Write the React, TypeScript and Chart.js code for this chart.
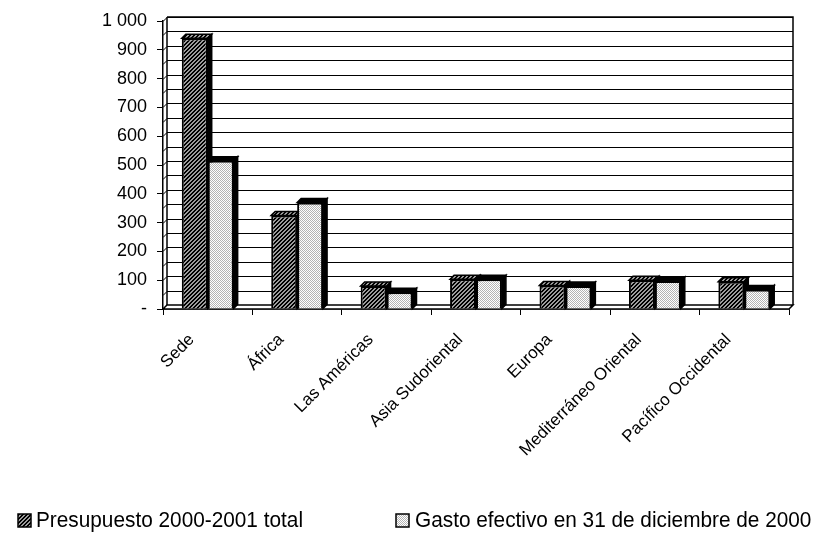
import React, { useEffect, useRef } from "react";
import { Chart, registerables } from "chart.js";

Chart.register(...registerables);

const categories = [
  "Sede",
  "África",
  "Las Américas",
  "Asia Sudoriental",
  "Europa",
  "Mediterráneo Oriental",
  "Pacífico Occidental",
];
const presupuesto = [940, 325, 80, 103, 82, 100, 95];
const gasto = [515, 370, 58, 103, 80, 97, 68];
const seriesNames = [
  "Presupuesto 2000-2001 total",
  "Gasto efectivo en 31 de diciembre de 2000",
];
const yMax = 1000;
const yStep = 50;
const yLabelStep = 100;

const FONT = "'Liberation Sans', Arial, sans-serif";
const DEPTH = 4;

function makeHatch(): CanvasPattern | string {
  const c = document.createElement("canvas");
  c.width = 4;
  c.height = 4;
  const g = c.getContext("2d");
  if (!g) return "#555";
  g.fillStyle = "#9c9c9c";
  g.fillRect(0, 0, 4, 4);
  g.fillStyle = "#000";
  for (let x = 0; x < 4; x++)
    for (let y = 0; y < 4; y++) if ((x + y) % 4 < 2) g.fillRect(x, y, 1, 1);
  return g.createPattern(c, "repeat") || "#555";
}

function makeDots(): CanvasPattern | string {
  const c = document.createElement("canvas");
  c.width = 2;
  c.height = 2;
  const g = c.getContext("2d");
  if (!g) return "#ddd";
  g.fillStyle = "#ffffff";
  g.fillRect(0, 0, 2, 2);
  g.fillStyle = "#b4b4b4";
  g.fillRect(0, 0, 1, 1);
  g.fillRect(1, 1, 1, 1);
  return g.createPattern(c, "repeat") || "#ddd";
}

function fmt(v: number): string {
  if (v === 0) return "-";
  return String(v).replace(/\B(?=(\d{3})+(?!\d))/g, " ");
}

const threeD = {
  id: "threeD",
  beforeDatasetsDraw(chart: any) {
    const { ctx, chartArea, scales } = chart;
    const d = DEPTH;
    const L = chartArea.left;
    const R = chartArea.right;
    const B = chartArea.bottom;
    const ys = scales.y;
    ctx.save();
    ctx.strokeStyle = "#000";
    ctx.lineWidth = 1;
    for (let v = 0; v <= yMax; v += yStep) {
      const y = Math.round(ys.getPixelForValue(v) - d) + 0.5;
      ctx.beginPath();
      ctx.moveTo(L + d, y);
      ctx.lineTo(R + d, y);
      ctx.stroke();
      ctx.beginPath();
      ctx.moveTo(L, y + d);
      ctx.lineTo(L + d, y);
      ctx.stroke();
    }
    const topY = ys.getPixelForValue(yMax) - d;
    ctx.lineWidth = 1.5;
    ctx.beginPath();
    ctx.moveTo(L + d, topY);
    ctx.lineTo(R + d, topY);
    ctx.lineTo(R + d, B - d);
    ctx.moveTo(L + d, topY);
    ctx.lineTo(L + d, B - d);
    ctx.stroke();
    ctx.beginPath();
    ctx.moveTo(L, B);
    ctx.lineTo(L + d, B - d);
    ctx.lineTo(R + d, B - d);
    ctx.lineTo(R, B);
    ctx.closePath();
    ctx.fillStyle = "#fff";
    ctx.fill();
    ctx.stroke();
    ctx.restore();

    chart.data.datasets.forEach((ds: any, i: number) => {
      const meta = chart.getDatasetMeta(i);
      meta.data.forEach((bar: any) => {
        const { x, y, base, width } = bar.getProps(["x", "y", "base", "width"], true);
        const l = x - width / 2;
        const r = x + width / 2;
        ctx.save();
        ctx.lineWidth = 1.5;
        ctx.strokeStyle = "#000";
        ctx.beginPath();
        ctx.moveTo(r, y);
        ctx.lineTo(r + d, y - d);
        ctx.lineTo(r + d, base - d);
        ctx.lineTo(r, base);
        ctx.closePath();
        ctx.fillStyle = "#000";
        ctx.fill();
        ctx.stroke();
        ctx.beginPath();
        ctx.moveTo(l, y);
        ctx.lineTo(l + d, y - d);
        ctx.lineTo(r + d, y - d);
        ctx.lineTo(r, y);
        ctx.closePath();
        ctx.fillStyle = i === 0 ? ds.backgroundColor : "#000";
        ctx.fill();
        ctx.stroke();
        ctx.restore();
      });
    });
  },
  afterDraw(chart: any) {
    const { ctx, chartArea, scales } = chart;
    const xs = scales.x;
    const B = chartArea.bottom;
    ctx.save();
    ctx.fillStyle = "#000";
    ctx.font = `17px ${FONT}`;
    ctx.textAlign = "right";
    ctx.textBaseline = "middle";
    categories.forEach((lab, i) => {
      const cx = xs.getPixelForValue(i);
      ctx.save();
      ctx.translate(cx - 16, B + 28);
      ctx.rotate(-Math.PI / 4);
      ctx.fillText(lab, 0, 0);
      ctx.restore();
    });
    // legend
    const boxX = [18, 396];
    const textX = [36, 415];
    const baseY = 527;
    const sx = 0.945;
    ctx.font = `22px ${FONT}`;
    ctx.textAlign = "left";
    ctx.textBaseline = "alphabetic";
    chart.data.datasets.forEach((ds: any, i: number) => {
      ctx.fillStyle = ds.backgroundColor;
      ctx.fillRect(boxX[i], baseY - 13, 13, 13);
      ctx.lineWidth = 1.5;
      ctx.strokeStyle = "#000";
      ctx.strokeRect(boxX[i], baseY - 13, 13, 13);
      ctx.fillStyle = "#000";
      ctx.save();
      ctx.translate(textX[i], baseY);
      ctx.scale(sx, 1);
      ctx.fillText(ds.label, 0, 0);
      ctx.restore();
    });
    ctx.restore();
  },
};

export default function App() {
  const ref = useRef<HTMLCanvasElement | null>(null);
  useEffect(() => {
    if (!ref.current) return;
    const hatch = makeHatch();
    const dots = makeDots();
    const chart = new Chart(ref.current, {
      type: "bar",
      data: {
        labels: categories,
        datasets: [
          {
            label: seriesNames[0],
            data: presupuesto,
            backgroundColor: hatch as any,
            borderColor: "#000",
            borderWidth: 2,
          },
          {
            label: seriesNames[1],
            data: gasto,
            backgroundColor: dots as any,
            borderColor: "#000",
            borderWidth: 2,
          },
        ],
      },
      options: {
        animation: false,
        responsive: false,
        maintainAspectRatio: false,
        layout: { padding: { left: 0, right: 28, top: 21, bottom: 0 } },
        datasets: { bar: { categoryPercentage: 0.58, barPercentage: 1 } },
        scales: {
          x: {
            grid: { display: true, drawOnChartArea: false, drawTicks: true, tickLength: 6, color: "#000", offset: true },
            border: { display: true, color: "#000", width: 1.5 },
            ticks: { display: false },
            afterFit: (s: any) => {
              s.height = 227;
            },
          },
          y: {
            min: 0,
            max: yMax,
            grid: {
              drawOnChartArea: false,
              tickLength: 6,
              color: (c: any) =>
                c.tick && Number(c.tick.value) % yLabelStep === 0 ? "#000" : "rgba(0,0,0,0)",
            },
            border: { display: true, color: "#000", width: 1.5 },
            ticks: {
              stepSize: yStep,
              autoSkip: false,
              padding: 10,
              color: "#000",
              font: { family: FONT, size: 18 },
              callback: (v: any) => (Number(v) % yLabelStep === 0 ? fmt(Number(v)) : ""),
            },
            afterFit: (s: any) => {
              s.width = 163;
            },
          },
        },
        plugins: {
          legend: { display: false },
          tooltip: { enabled: false },
        },
      },
      plugins: [threeD],
    });
    return () => chart.destroy();
  }, []);
  return (
    <div style={{ position: "absolute", left: 0, top: 0, width: 817, height: 536, background: "#fff" }}>
      <canvas ref={ref} width={817} height={536} style={{ display: "block" }} />
    </div>
  );
}
